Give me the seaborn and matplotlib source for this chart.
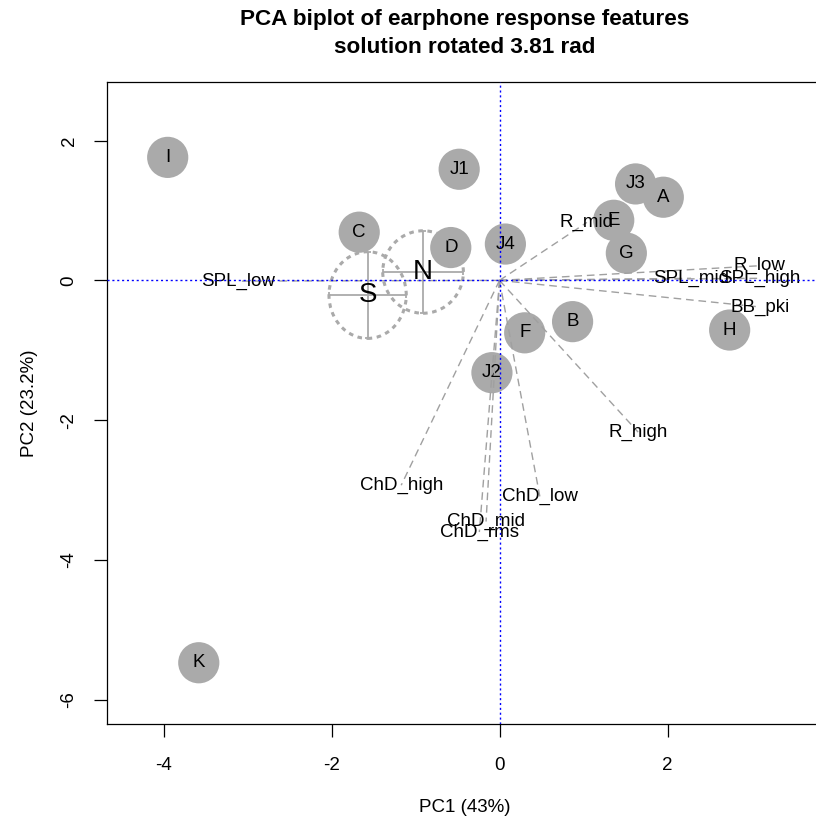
import numpy as np
import pandas as pd
import seaborn as sns
import matplotlib.pyplot as plt
from matplotlib.patches import Ellipse

# sample scores (earphones)
samples = ['I', 'J1', 'J3', 'A', 'C', 'E', 'D', 'J4', 'G', 'B', 'F', 'H', 'J2', 'K']
pc1 = [-3.95, -0.48, 1.62, 1.95, -1.67, 1.36, -0.58, 0.07, 1.51, 0.87, 0.30, 2.74, -0.09, -3.58]
pc2 = [1.76, 1.59, 1.38, 1.19, 0.69, 0.86, 0.47, 0.52, 0.39, -0.59, -0.75, -0.71, -1.32, -5.47]

# variable loadings (scaled)
variables = ['SPL_low', 'R_mid', 'R_low', 'SPL_high', 'SPL_mid', 'BB_pki',
             'R_high', 'ChD_high', 'ChD_low', 'ChD_mid', 'ChD_rms']
load1 = [-3.11, 1.04, 3.10, 3.10, 2.28, 3.10, 1.65, -1.17, 0.48, -0.16, -0.24]
load2 = [-0.01, 0.83, 0.21, 0.03, 0.03, -0.38, -2.17, -2.93, -3.09, -3.45, -3.60]

# group means and spreads
groups = ['S', 'N']
grp_x = [-1.57, -0.91]
grp_y = [-0.21, 0.12]
grp_sx = [0.46, 0.48]
grp_sy = [0.62, 0.59]

sns.set_theme(style='ticks')
plt.rcParams['font.family'] = ['Liberation Sans', 'DejaVu Sans']
plt.rcParams['axes.unicode_minus'] = False
plt.rcParams['text.color'] = 'black'
plt.rcParams['axes.labelcolor'] = 'black'
plt.rcParams['xtick.color'] = 'black'
plt.rcParams['ytick.color'] = 'black'

fig = plt.figure(figsize=(8.16, 8.27), dpi=100)
ax = fig.add_axes([107.3 / 816, 1 - 724.3 / 827, (823 - 107.3) / 816, (724.3 - 81.7) / 827])

scores = pd.DataFrame({'sample': samples, 'PC1': pc1, 'PC2': pc2})
sns.scatterplot(data=scores, x='PC1', y='PC2', s=880, color='#AAAAAA',
                edgecolor='none', linewidth=0, ax=ax, zorder=2, legend=False)
for name, x, y in zip(samples, pc1, pc2):
    ax.text(x, y, name, ha='center', va='center', fontsize=13.5, color='black', zorder=3)

# variable arrows
for name, x, y in zip(variables, load1, load2):
    ax.plot([0, x], [0, y], color='#A0A0A0', lw=1.0, ls=(0, (5.5, 3.5)), zorder=4)
    ax.text(x, y, name, ha='center', va='center', fontsize=13.5, color='black', zorder=5)

# group centroids with error bars and ellipses
ax.errorbar(grp_x, grp_y, xerr=grp_sx, yerr=grp_sy, fmt='none', ecolor='#AAAAAA',
            elinewidth=1.3, capsize=2.5, capthick=1.3, zorder=4)
for name, x, y, sx, sy in zip(groups, grp_x, grp_y, grp_sx, grp_sy):
    ax.add_patch(Ellipse((x, y), 2 * sx, 2 * sy, fill=False, ec='#AAAAAA',
                         lw=2.2, ls=(0, (1.5, 1.5)), zorder=4))
    ax.text(x, y, name, ha='center', va='center', fontsize=20, color='black', zorder=5)

ax.axhline(0, color='blue', lw=1, ls=(0, (1.5, 2)), zorder=6)
ax.axvline(0, color='blue', lw=1, ls=(0, (1.5, 2)), zorder=6)

ax.set_xlim((107.3 - 499.5) / 84, (823 - 499.5) / 84)
ax.set_ylim((280.4 - 724.3) / 69.9, (280.4 - 81.7) / 69.9)
ax.set_xticks([-4, -2, 0, 2])
ax.set_yticks([-6, -4, -2, 0, 2])
ax.set_xlabel('')
ax.set_ylabel('')
ax.tick_params(axis='both', direction='out', length=9.4, width=0.9, color='black',
               labelsize=13.5, labelcolor='black')
ax.tick_params(axis='x', pad=14)
ax.tick_params(axis='y', pad=12)
for lab in ax.get_yticklabels():
    lab.set_rotation(90)
    lab.set_va('center')
for sp in ax.spines.values():
    sp.set_color('black')
    sp.set_linewidth(0.9)

fig.text(465 / 816, 1 - 808 / 827, 'PC1 (43%)', ha='center', va='center', fontsize=13.5)
fig.text(30 / 816, 1 - 403 / 827, 'PC2 (23.2%)', ha='center', va='center',
         rotation=90, fontsize=13.5)
fig.text(465 / 816, 1 - 25.5 / 827, 'PCA biplot of earphone response features',
         ha='center', va='baseline', fontsize=16.2, fontweight='bold')
fig.text(465 / 816, 1 - 52.7 / 827, 'solution rotated 3.81 rad',
         ha='center', va='baseline', fontsize=16.2, fontweight='bold')

fig.savefig('out.png', dpi=100)
